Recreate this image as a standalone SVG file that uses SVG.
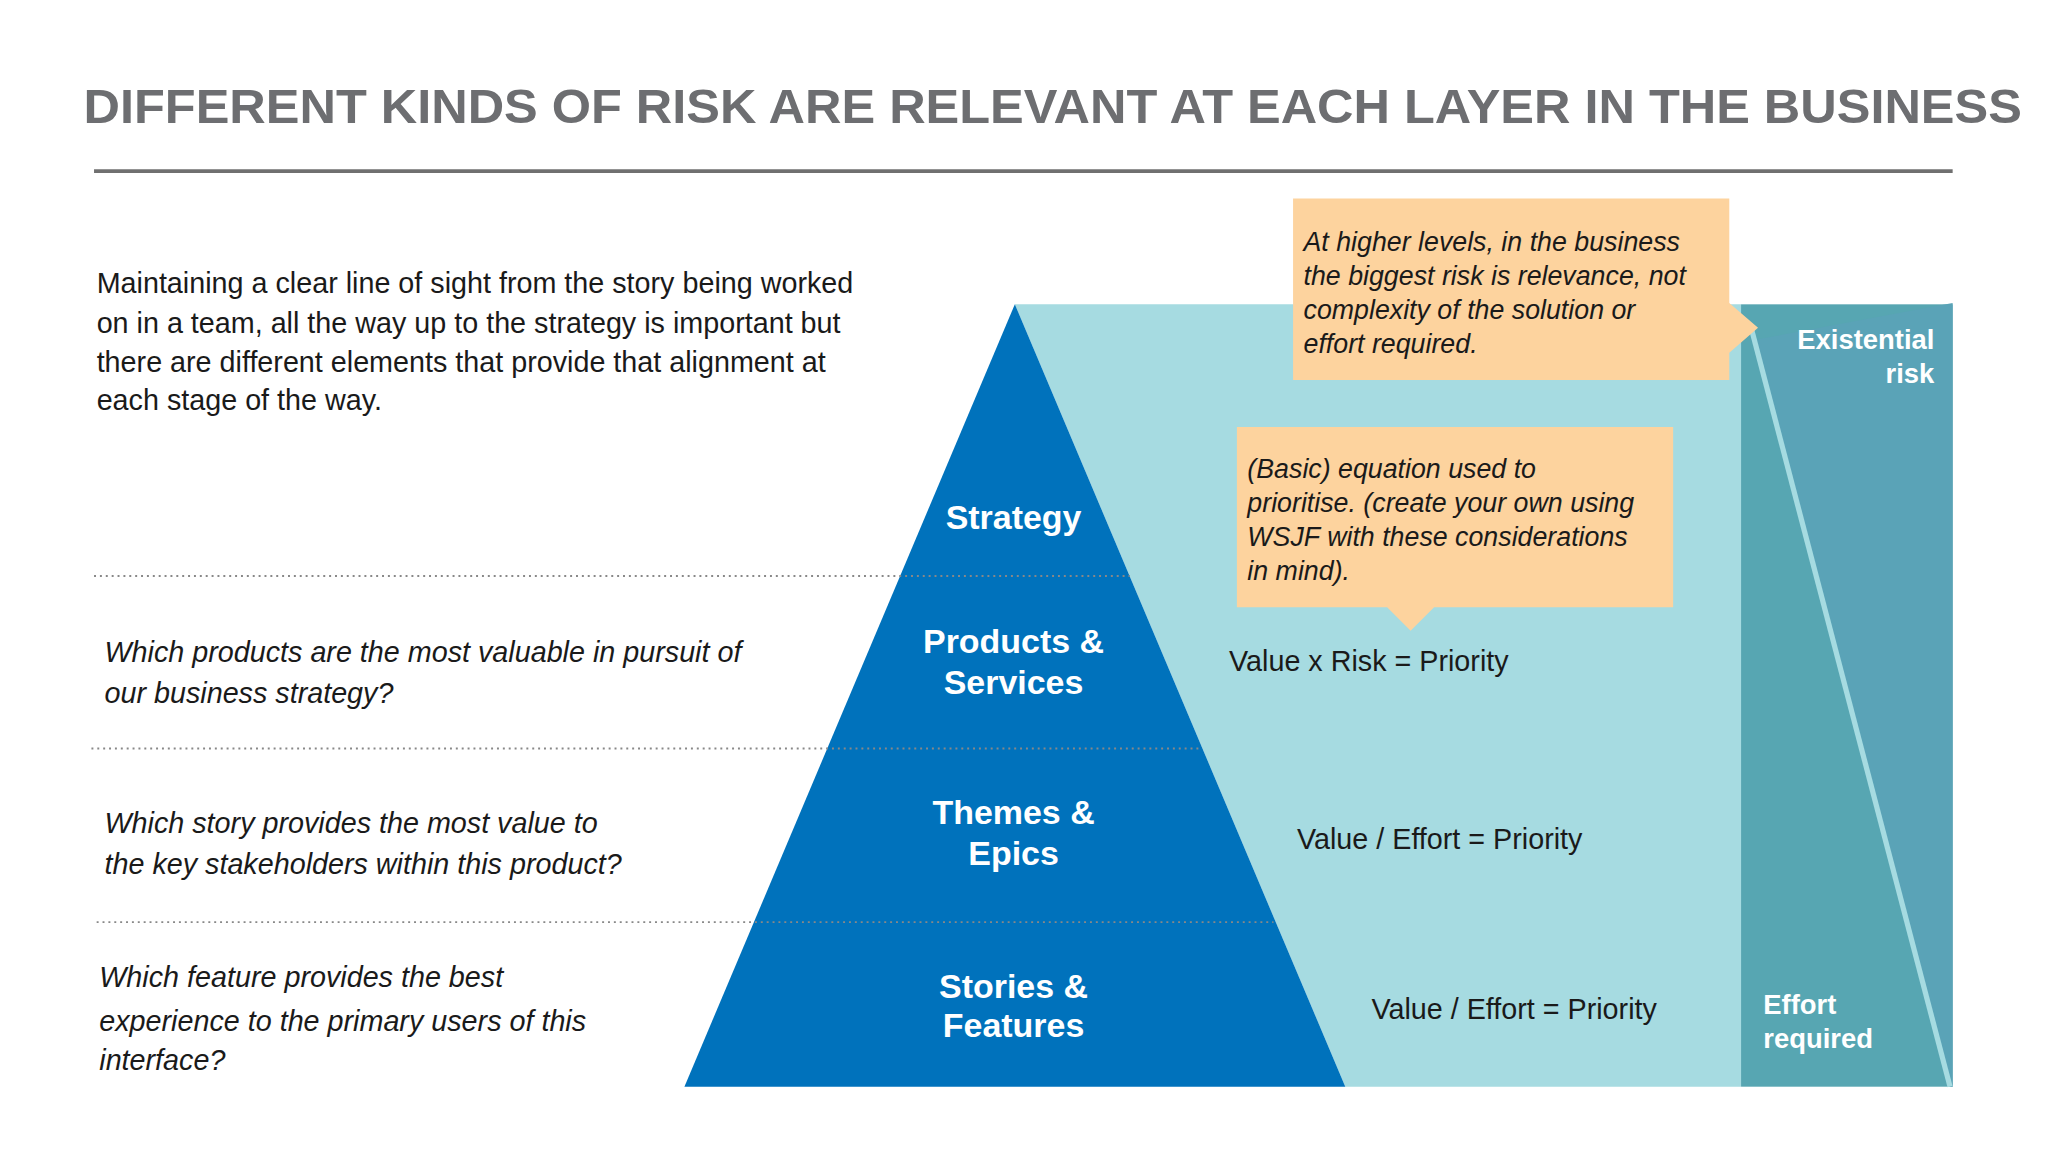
<svg xmlns="http://www.w3.org/2000/svg" width="2048" height="1152" viewBox="0 0 2048 1152">
<style>
text{font-family:"Liberation Sans",Arial,sans-serif;}
.body{font-size:22px;fill:#1a1a1a;}
.it{font-size:22px;font-style:italic;fill:#1a1a1a;}
.ci{font-size:20.5px;font-style:italic;fill:#1a1a1a;}
.pl{font-size:26px;font-weight:bold;fill:#fff;text-anchor:middle;}
.wl{font-size:21px;font-weight:bold;fill:#fff;}
.dot{stroke:#888;stroke-width:1.5;stroke-dasharray:1.5 3;fill:none;}
.call{fill:#fdd39e;}
</style>
<rect width="2048" height="1152" fill="#fff"/>
<g transform="scale(1.30612)">
<g id="title">
<text x="64" y="94" font-size="37" font-weight="bold" fill="#6d6e71" textLength="1484" lengthAdjust="spacingAndGlyphs">DIFFERENT KINDS OF RISK ARE RELEVANT AT EACH LAYER IN THE BUSINESS</text>
<line x1="72" y1="131" x2="1495" y2="131" stroke="#707070" stroke-width="3"/>
</g>
<g id="background">
<polygon points="777,233 1333,233 1333,832 1030,832" fill="#a6dbe1"/>
<rect x="1333" y="233" width="162" height="599" fill="#57a6b2"/>
<polygon points="1345,260 1495,232 1495,832 1493,832" fill="#5aa3b7"/>
<line x1="1341" y1="252" x2="1493" y2="832" stroke="#a6dbe1" stroke-width="4"/>
</g>
<g id="pyramid">
<polygon points="777,233 1030,832 524,832" fill="#0072bc"/>
</g>
<g id="connectors">
<line class="dot" x1="72" y1="441" x2="865" y2="441"/>
<line class="dot" x1="70" y1="573" x2="920" y2="573"/>
<line class="dot" x1="74" y1="706" x2="975" y2="706"/>
</g>
<g id="intro">
<text class="body" x="74" y="224">Maintaining a clear line of sight from the story being worked</text>
<text class="body" x="74" y="255">on in a team, all the way up to the strategy is important but</text>
<text class="body" x="74" y="285">there are different elements that provide that alignment at</text>
<text class="body" x="74" y="314">each stage of the way.</text>
</g>
<g id="q1"><text class="it" x="80" y="507">Which products are the most valuable in pursuit of</text><text class="it" x="80" y="538">our business strategy?</text></g>
<g id="q2"><text class="it" x="80" y="638">Which story provides the most value to</text><text class="it" x="80" y="669">the key stakeholders within this product?</text></g>
<g id="q3"><text class="it" x="76" y="756">Which feature provides the best</text><text class="it" x="76" y="789">experience to the primary users of this</text><text class="it" x="76" y="819">interface?</text></g>
<g id="strategy"><text class="pl" x="776" y="405">Strategy</text></g>
<g id="products"><text class="pl" x="776" y="500">Products &amp;</text><text class="pl" x="776" y="531">Services</text></g>
<g id="themes"><text class="pl" x="776" y="631">Themes &amp;</text><text class="pl" x="776" y="662">Epics</text></g>
<g id="stories"><text class="pl" x="776" y="794">Features</text><text class="pl" x="776" y="764">Stories &amp;</text></g>
<g id="eq1"><text class="body" x="941" y="514">Value x Risk = Priority</text></g>
<g id="eq2"><text class="body" x="993" y="650">Value / Effort = Priority</text></g>
<g id="eq3"><text class="body" x="1050" y="780">Value / Effort = Priority</text></g>
<g id="callout1">
<path class="call" d="M990,152 H1324 V232 L1346,251 L1324,270 V291 H990 Z"/>
<text class="ci" x="998" y="192">At higher levels, in the business</text>
<text class="ci" x="998" y="218">the biggest risk is relevance, not</text>
<text class="ci" x="998" y="244">complexity of the solution or</text>
<text class="ci" x="998" y="270">effort required.</text>
</g>
<g id="callout2">
<path class="call" d="M947,327 H1281 V465 H1098 L1080,483 L1062,465 H947 Z"/>
<text class="ci" x="955" y="366">(Basic) equation used to</text>
<text class="ci" x="955" y="392">prioritise. (create your own using</text>
<text class="ci" x="955" y="418">WSJF with these considerations</text>
<text class="ci" x="955" y="444">in mind).</text>
</g>
<g id="existential"><text class="wl" x="1481" y="267" text-anchor="end">Existential</text><text class="wl" x="1481" y="293" text-anchor="end">risk</text></g>
<g id="effort"><text class="wl" x="1350" y="776">Effort</text><text class="wl" x="1350" y="802">required</text></g>
</g>
</svg>
